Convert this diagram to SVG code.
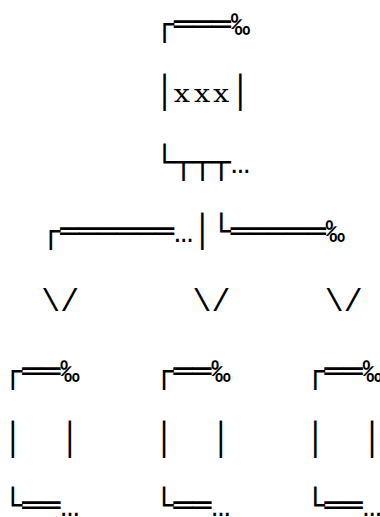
<svg xmlns="http://www.w3.org/2000/svg" width="380" height="517" viewBox="0 0 380 517">
<style>
.t{font-family:"DejaVu Sans Mono","Liberation Mono",monospace;font-size:31.5px;fill:#000;white-space:pre}
.m{font-family:"Liberation Mono","DejaVu Sans Mono",monospace}
.s{font-family:"DejaVu Serif","Liberation Serif",serif;font-size:23.5px;fill:#000}
</style>
<rect width="380" height="517" fill="#fff"/>
<g id="top-box">
<text class="t" x="3.5" y="34.5" xml:space="preserve">        ┌═══<tspan class="m">‰</tspan></text>
<text class="t" x="3.5" y="103" xml:space="preserve">        │   │</text>
<text class="s" transform="translate(173.8 102) scale(1.22 1)" x="0 16.6 32.2" y="0">xxx</text>
<text class="t" x="3.5" y="173" xml:space="preserve">        └┬┬┬<tspan class="m">…</tspan></text>
</g>
<g id="split">
<text class="t" x="3.5" y="242" xml:space="preserve">  ┌══════<tspan class="m">…</tspan>│└═════<tspan class="m">‰</tspan></text>
</g>
<g id="connectors">
<text class="t m" x="3.5" y="311" xml:space="preserve">  \/      \/     \/</text>
</g>
<g id="box-left">
<text class="t" x="3.5" y="381.5">┌══<tspan class="m">‰</tspan></text>
<text class="t" x="3.5" y="450" xml:space="preserve">│  │</text>
<text class="t" x="3.5" y="516">└══<tspan class="m">…</tspan></text>
</g>
<g id="box-middle">
<text class="t" x="154.7" y="381.5">┌══<tspan class="m">‰</tspan></text>
<text class="t" x="154.7" y="450" xml:space="preserve">│  │</text>
<text class="t" x="154.7" y="516">└══<tspan class="m">…</tspan></text>
</g>
<g id="box-right">
<text class="t" x="305.9" y="381.5">┌══<tspan class="m">‰</tspan></text>
<text class="t" x="305.9" y="450" xml:space="preserve">│  │</text>
<text class="t" x="305.9" y="516">└══<tspan class="m">…</tspan></text>
</g>
</svg>
